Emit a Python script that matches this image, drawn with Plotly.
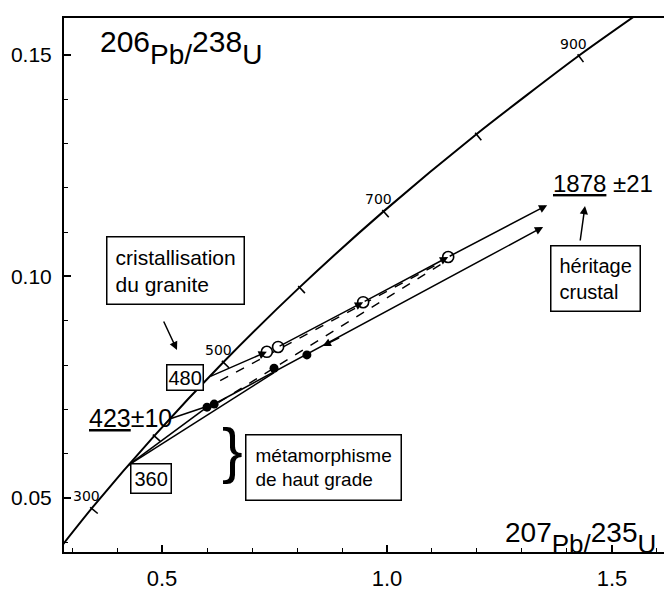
import plotly.graph_objects as go
import math

# ---------------- data ----------------
conc_ages = [200, 300, 400, 500, 600, 700, 800, 900, 1000]
conc_x = [0.2177, 0.3437, 0.4828, 0.6362, 0.8056, 0.9924, 1.1987, 1.4262, 1.6773]
conc_y = [0.03151, 0.04764, 0.06402, 0.08065, 0.09754, 0.11470, 0.13213, 0.14983, 0.16780]
labelled_ages = [300, 500, 700, 900]

intercept_ages = [360, 423, 480]
intercept_x = [0.4255, 0.5168, 0.6043]
intercept_y = [0.05743, 0.06782, 0.07730]

open_x = [0.733, 0.758, 0.947, 1.136]
open_y = [0.0830, 0.0841, 0.0942, 0.1044]

filled_x = [0.600, 0.616, 0.749, 0.822]
filled_y = [0.0705, 0.0712, 0.0793, 0.0823]

upper_end_x, upper_end_y = 1.356, 0.1161
lower_end_x, lower_end_y = 1.347, 0.1112

x_ticks = [0.5, 1.0, 1.5]
y_ticks = [0.05, 0.10, 0.15]

# ---------------- geometry helpers ----------------
X0, X1 = 0.2822, 1.6156
Y0, Y1 = 0.03781, 0.15835
W, H = 664, 597
ML, MR, MT, MB = 64, 0, 18, 45
PW, PH = W - ML - MR, H - MT - MB
sx = PW / (X1 - X0)
sy = PH / (Y1 - Y0)

def px(x):
    return X0 + (x - ML) / sx

def py(y):
    return Y1 - (y - MT) / sy

SANS = "Liberation Sans, Arial, sans-serif"
SMALL = "DejaVu Sans, Verdana, sans-serif"

fig = go.Figure()

# concordia
fig.add_trace(go.Scatter(x=conc_x, y=conc_y, mode="lines",
                         line=dict(color="black", width=2, shape="spline", smoothing=0.6),
                         hoverinfo="skip", showlegend=False))

# concordia age ticks (perpendicular to the curve, on its lower-right side)
tx, ty, ang = [], [], []
for i in range(1, len(conc_ages) - 1):
    dxp = (conc_x[i + 1] - conc_x[i - 1]) * sx
    dyp = (conc_y[i + 1] - conc_y[i - 1]) * sy
    theta = math.degrees(math.atan2(dyp, dxp))
    nx = math.sin(math.radians(theta)) * 3 / sx
    ny = -math.cos(math.radians(theta)) * 3 / sy
    tx.append(conc_x[i] + nx)
    ty.append(conc_y[i] + ny)
    ang.append(-theta)
fig.add_trace(go.Scatter(x=tx, y=ty, mode="markers",
                         marker=dict(symbol="line-ns", size=7, angle=ang,
                                     line=dict(color="black", width=1.6)),
                         hoverinfo="skip", showlegend=False))

# age labels
for a in labelled_ages:
    i = conc_ages.index(a)
    fig.add_annotation(x=conc_x[i], y=conc_y[i], text=str(a), showarrow=False,
                       xanchor="center", yanchor="middle", xshift=-5, yshift=12,
                       font=dict(family=SMALL, size=14, color="black"))

def seg(x, y, dash="solid", width=1.6):
    fig.add_trace(go.Scatter(x=x, y=y, mode="lines",
                             line=dict(color="black", width=width, dash=dash),
                             hoverinfo="skip", showlegend=False))

def arrow(x0, y0, x1, y1, width=1.5):
    fig.add_annotation(x=x1, y=y1, ax=x0, ay=y0, xref="x", yref="y",
                       axref="x", ayref="y", text="", showarrow=True,
                       arrowhead=2, arrowsize=1.1, arrowwidth=width,
                       arrowcolor="black", standoff=0)

# upper family (open circles): solid chain with arrows
arrow(intercept_x[2], intercept_y[2], open_x[0], open_y[0])
arrow(open_x[1], open_y[1], open_x[2], open_y[2])
arrow(open_x[2], open_y[2], open_x[3], open_y[3])
arrow(open_x[3], open_y[3], upper_end_x, upper_end_y)
# dashed line from the lower intercept region up to the last open circle
seg([intercept_x[2] + 0.025, open_x[3] - 0.012],
    [intercept_y[2] - 0.0008, open_y[3] - 0.0010], dash="dash", width=1.4)
# dashed line joining the metamorphic zircons to the last open circle
seg([filled_x[1] + 0.01, open_x[3] - 0.015],
    [filled_y[1] + 0.0004, open_y[3] - 0.0016], dash="dash", width=1.4)

# lower family (filled circles)
seg([intercept_x[0], filled_x[0]], [intercept_y[0], filled_y[0]])
seg([intercept_x[0], filled_x[2]], [intercept_y[0], filled_y[2] - 0.0010])
seg([intercept_x[1], filled_x[1]], [intercept_y[1], filled_y[1]])
arrow(filled_x[1], filled_y[1], lower_end_x, lower_end_y)
# backward pointing arrow on the lower chord
arrow(filled_x[3] + 0.075, filled_y[3] + 0.0040, filled_x[3] + 0.035, filled_y[3] + 0.0020)

# points
fig.add_trace(go.Scatter(x=open_x, y=open_y, mode="markers",
                         marker=dict(symbol="circle", size=11, color="white",
                                     line=dict(color="black", width=1.6)),
                         hoverinfo="skip", showlegend=False))
fig.add_trace(go.Scatter(x=filled_x, y=filled_y, mode="markers",
                         marker=dict(symbol="circle", size=9, color="black"),
                         hoverinfo="skip", showlegend=False))

# axis titles
fig.add_annotation(x=px(98), y=py(47), xanchor="left", yanchor="middle", showarrow=False,
                   text="<sup><span style='font-size:30px'>206</span></sup>Pb/<sup><span style='font-size:30px'>238</span></sup>U",
                   font=dict(family=SANS, size=28, color="black"))
fig.add_annotation(x=px(503), y=py(538), xanchor="left", yanchor="middle", showarrow=False,
                   text="<sup><span style='font-size:28px'>207</span></sup>Pb/<sup><span style='font-size:28px'>235</span></sup>U",
                   font=dict(family=SANS, size=26, color="black"))

# boxes
def box(xc, yc, text, size=21, pad=8):
    fig.add_annotation(x=px(xc), y=py(yc), text=text, showarrow=False,
                       xanchor="center", yanchor="middle", align="left",
                       bordercolor="black", borderwidth=1.5, borderpad=pad,
                       bgcolor="white",
                       font=dict(family=SANS, size=size, color="black"))

box(175, 270, "cristallisation<br>du granite", size=21, pad=8)
box(185, 377, "480", size=20, pad=1)
box(151, 478, "360", size=20, pad=3)
box(323, 467, "métamorphisme<br>de haut grade", size=19, pad=9)
box(595, 278, "héritage<br>crustal", size=20, pad=8)

# big labels
fig.add_annotation(x=px(87), y=py(418), xanchor="left", yanchor="middle", showarrow=False,
                   text="<u>423</u>±10", font=dict(family=SANS, size=25, color="black"))
fig.add_annotation(x=px(551), y=py(183), xanchor="left", yanchor="middle", showarrow=False,
                   text="<u>1878</u> ±21", font=dict(family=SANS, size=24, color="black"))

# brace
fig.add_annotation(x=px(232), y=py(449), showarrow=False, text="}",
                   font=dict(family=SANS, size=62, color="black"))

# pointer arrows
fig.add_annotation(x=px(177), y=py(350), ax=px(163), ay=py(320), xref="x", yref="y",
                   axref="x", ayref="y", text="", showarrow=True, arrowhead=2,
                   arrowsize=1.1, arrowwidth=1.5, arrowcolor="black")
fig.add_annotation(x=px(585), y=py(206), ax=px(580), ay=py(242), xref="x", yref="y",
                   axref="x", ayref="y", text="", showarrow=True, arrowhead=2,
                   arrowsize=1.1, arrowwidth=1.5, arrowcolor="black")

fig.update_layout(
    width=W, height=H, margin=dict(l=ML, r=MR, t=MT, b=MB, autoexpand=False),
    paper_bgcolor="white", plot_bgcolor="white",
    xaxis=dict(range=[X0, X1], showgrid=False, zeroline=False, showline=True,
               automargin=False,
               linecolor="black", linewidth=2, mirror=True,
               tickmode="array", tickvals=x_ticks, ticktext=[f"{v:.1f}" for v in x_ticks],
               ticks="inside", ticklen=7, tickwidth=1.5, tickcolor="black",
               ticklabelstandoff=6,
               minor=dict(dtick=0.1, tick0=0, ticks="inside", ticklen=4,
                          tickwidth=1.2, tickcolor="black"),
               tickfont=dict(family=SANS, size=22, color="black")),
    yaxis=dict(range=[Y0, Y1], showgrid=False, zeroline=False, showline=True,
               automargin=False,
               linecolor="black", linewidth=2, mirror=False,
               tickmode="array", tickvals=y_ticks, ticktext=[f"{v:.2f}" for v in y_ticks],
               ticks="inside", ticklen=7, tickwidth=1.5, tickcolor="black",
               ticklabelstandoff=6,
               minor=dict(dtick=0.01, tick0=0, ticks="inside", ticklen=4,
                          tickwidth=1.2, tickcolor="black"),
               tickfont=dict(family=SANS, size=21, color="black")),
    showlegend=False,
)

fig.write_html("out.html", config={"displayModeBar": False},
               post_script="document.body.style.margin='0px';document.body.style.overflow='hidden';")
